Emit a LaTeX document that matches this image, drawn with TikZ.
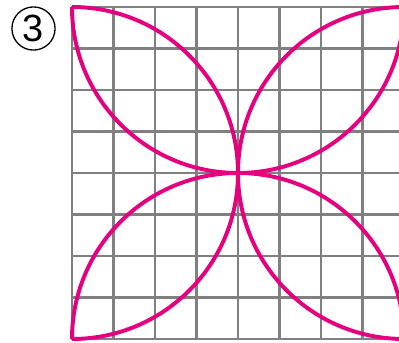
\documentclass[tikz,border=0pt]{standalone}
\usepackage{fontspec}
\setmainfont{Liberation Sans}
\usepackage{xcolor}
\usepackage{tikz}
\definecolor{cLeaf}{HTML}{E4007F}
\definecolor{cGrid}{HTML}{808080}
\tikzset{
  gridln/.style ={draw=cGrid, line width=1.4pt},
  frame/.style  ={draw=cGrid, line width=1.8pt},
  leaf/.style   ={draw=cLeaf, line width=2.7pt},
  numcirc/.style={circle, draw=black, line width=0.9pt, minimum size=1.04cm,
                  inner sep=0pt, font=\fontsize{26}{26}\selectfont},
}
\begin{document}
\begin{tikzpicture}
  \useasboundingbox (-1.735,-0.096) rectangle (7.88,8.169);
  \clip (-1.735,-0.096) rectangle (7.88,8.169);
  \node[numcirc] (num) at (-0.928,7.482) {3};

  % 8 x 8 squares
  \draw[gridln] (0,0) grid (8,8);
  \draw[frame] (0,0) rectangle (8,8);

  % four half circles through the centre
  \draw[leaf] (0,8) arc[start angle=180, end angle=360, radius=4];
  \draw[leaf] (0,0) arc[start angle=-90, end angle=90, radius=4];
  \draw[leaf] (0,0) arc[start angle=180, end angle=0, radius=4];
  \draw[leaf] (8,0) arc[start angle=-90, end angle=-270, radius=4];
\end{tikzpicture}
\end{document}
